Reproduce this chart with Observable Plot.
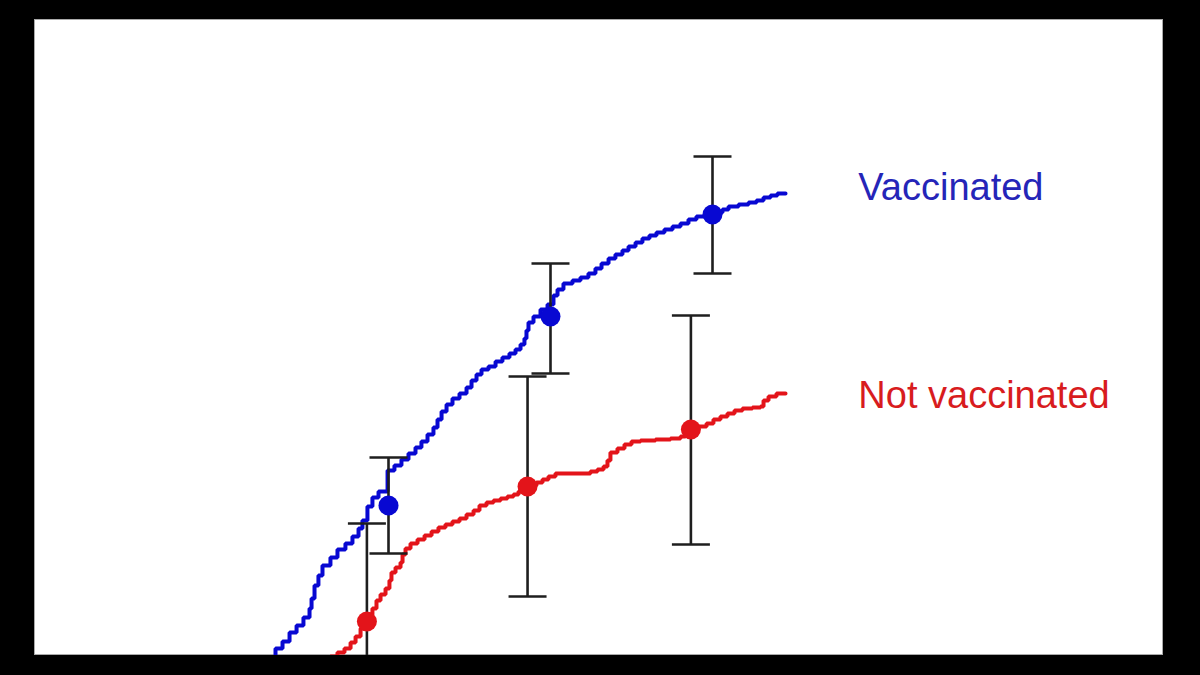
<!DOCTYPE html>
<html>
<head>
<meta charset="utf-8">
<script src="https://cdn.jsdelivr.net/npm/d3@7"></script>
<script src="https://cdn.jsdelivr.net/npm/@observablehq/plot@0.6"></script>
<style>
  html, body { margin: 0; padding: 0; background: #000; width: 1200px; height: 675px; overflow: hidden; }
  #panel { position: absolute; left: 34px; top: 19px; width: 1129px; height: 636px; background: #fff; overflow: hidden; box-shadow: inset 0 0 0 1px #aaa; }
  #panel svg { overflow: hidden; background: transparent; }
</style>
</head>
<body>
<div id="panel"></div>
<script>
// Time in months since start, cumulative percentage
const vaccinatedMonths = [3.11,3.63,4.15,4.67,5.19,5.70,6.15,6.30,6.52,6.81,7.11,7.70,8.22,8.81,9.33,9.78,10.07,10.44,10.81,11.26,11.93,12.44,12.96,13.48,14.0,14.44,14.89,15.33,15.63,15.93,16.30,16.74,17.26,17.78,18.15,18.52,18.89,19.41,19.93,20.44,20.96,21.41,21.78,22.07,22.22,22.37,22.74,23.26,23.78,24.22,24.52,24.96,25.63,26.22,26.81,27.33,27.78,28.30,28.81,29.33,29.78,30.30,30.81,31.33,31.85,32.44,33.04,33.63,34.22,34.81,35.48,36.15,36.74,37.19,37.93,38.67,39.26,39.78,40.30,40.81,41.41];
const vaccinatedPct = [-0.5,0.7,1.4,2.3,3.0,3.8,4.7,5.7,7.0,8.0,9.0,9.8,10.6,11.2,11.9,12.7,13.5,14.9,15.8,16.4,18.5,19.0,19.6,20.2,20.8,21.4,22.1,22.8,23.6,24.4,25.1,25.7,26.2,26.8,27.5,28.1,28.6,28.9,29.4,29.8,30.2,30.6,31.1,31.7,32.5,33.3,33.9,34.6,35.1,36.0,36.6,37.2,37.5,37.8,38.2,38.7,39.2,39.7,40.1,40.5,40.9,41.3,41.7,42.0,42.3,42.6,42.9,43.2,43.6,43.9,44.1,44.3,44.6,44.9,45.1,45.3,45.5,45.8,46.0,46.2,46.2];

const notVaccinatedMonths = [7.11,7.70,8.22,8.74,9.19,9.56,9.93,10.22,10.52,10.81,11.11,11.41,11.78,12.07,12.22,12.52,12.89,13.04,13.26,13.63,14.15,14.67,15.19,15.70,16.22,16.74,17.26,17.78,18.30,18.74,19.26,19.78,20.30,20.81,21.26,21.63,22.07,22.52,22.96,23.41,23.85,24.37,26.96,27.48,27.93,28.22,28.44,28.96,29.48,30.0,30.67,31.78,32.89,33.63,34.0,34.37,34.96,35.56,36.07,36.59,37.11,37.63,38.22,38.96,39.56,39.78,40.15,40.74,41.41];
const notVaccinatedPct = [-0.7,-0.1,0.3,0.7,1.3,1.9,2.7,3.4,4.1,4.7,5.5,6.1,6.7,7.5,8.3,8.8,9.3,10.1,10.7,11.2,11.6,12.0,12.4,12.8,13.1,13.4,13.7,14.1,14.5,15.0,15.3,15.5,15.7,15.9,16.1,16.4,16.8,17.0,17.3,17.6,17.9,18.2,18.4,18.6,18.9,19.5,20.3,20.7,21.1,21.4,21.5,21.6,21.7,21.9,22.3,22.7,22.9,23.2,23.6,23.9,24.2,24.5,24.7,24.8,24.9,25.5,25.9,26.2,26.2];

// Estimates with 95% confidence intervals at three follow-up times
const vaccinatedTimes = [12, 24, 36];
const vaccinatedEst = [15.0, 33.9, 44.1];
const vaccinatedLow = [10.2, 28.2, 38.2];
const vaccinatedHigh = [19.8, 39.2, 49.9];

const notVaccinatedTimes = [10.4, 22.3, 34.4];
const notVaccinatedEst = [3.4, 16.9, 22.6];
const notVaccinatedLow = [-6.0, 5.9, 11.1];
const notVaccinatedHigh = [13.2, 27.9, 34.0];

const seriesNames = ["Vaccinated", "Not vaccinated"];
const seriesColors = ["#0808d2", "#e3141a"];
const labelColors = ["#2525b8", "#d81c1e"];
const labelMonths = [46.8, 46.8];
const labelPct = [46.8, 26.0];

// ---- build tables ----
const curves = [
  ...vaccinatedMonths.map((m, i) => ({group: seriesNames[0], month: m, pct: vaccinatedPct[i]})),
  ...notVaccinatedMonths.map((m, i) => ({group: seriesNames[1], month: m, pct: notVaccinatedPct[i]}))
];
const estimates = [
  ...vaccinatedTimes.map((t, i) => ({group: seriesNames[0], month: t, est: vaccinatedEst[i], lo: vaccinatedLow[i], hi: vaccinatedHigh[i]})),
  ...notVaccinatedTimes.map((t, i) => ({group: seriesNames[1], month: t, est: notVaccinatedEst[i], lo: notVaccinatedLow[i], hi: notVaccinatedHigh[i]}))
];
const caps = estimates.flatMap(d => [{month: d.month, pct: d.lo}, {month: d.month, pct: d.hi}]);
const labels = seriesNames.map((name, i) => ({name, month: labelMonths[i], pct: labelPct[i], color: labelColors[i]}));

const capSymbol = {
  draw(context, size) {
    const w = Math.sqrt(size / Math.PI);
    context.moveTo(-w, 0);
    context.lineTo(w, 0);
  }
};

const chart = Plot.plot({
  width: 1129,
  height: 636,
  marginLeft: 192,
  marginRight: 289,
  marginTop: 0,
  marginBottom: 0,
  x: {domain: [0, 48], axis: null},
  y: {domain: [0, 63.6], axis: null},
  color: {domain: seriesNames, range: seriesColors},
  style: {fontFamily: "'Liberation Sans', Arial, sans-serif", background: "transparent"},
  marks: [
    Plot.line(curves, {x: "month", y: "pct", z: "group", stroke: "group", strokeWidth: 4, curve: "step-after", strokeLinejoin: "miter"}),
    Plot.ruleX(estimates, {x: "month", y1: "lo", y2: "hi", stroke: "#1e1e1e", strokeWidth: 2.6}),
    Plot.dot(caps, {x: "month", y: "pct", symbol: capSymbol, r: 19, stroke: "#1e1e1e", strokeWidth: 2.6, fill: "none"}),
    Plot.dot(estimates, {x: "month", y: "est", fill: "group", r: 10, stroke: "none"}),
    Plot.text(labels, {x: "month", y: "pct", text: "name", fill: d => d.color, textAnchor: "start", fontSize: 38})
  ]
});
document.getElementById("panel").appendChild(chart);
</script>
</body>
</html>
